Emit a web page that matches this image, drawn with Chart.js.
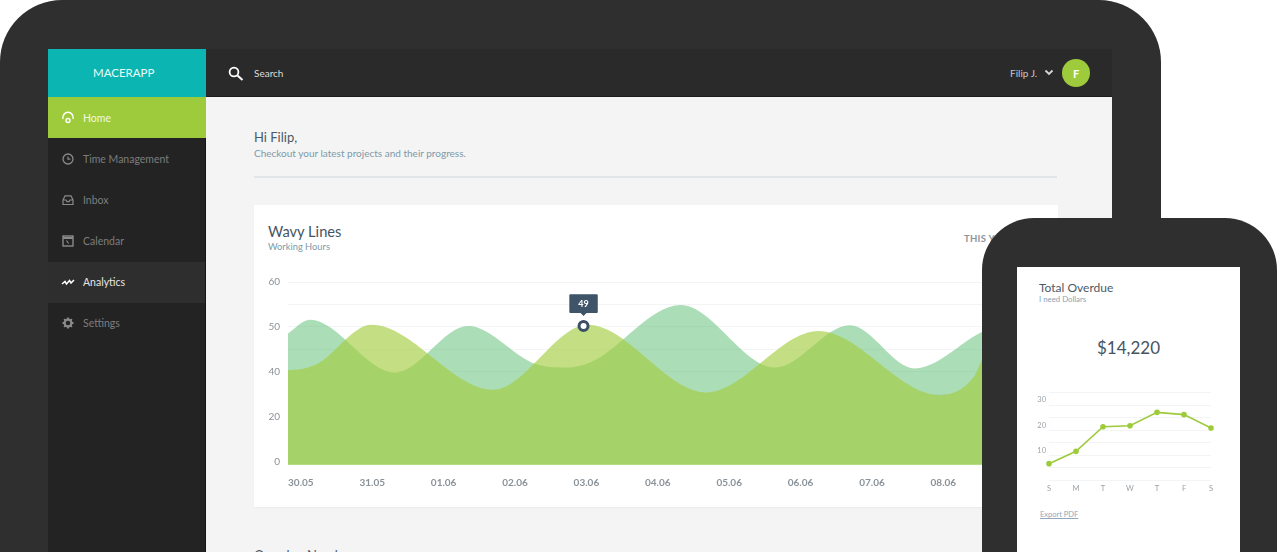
<!DOCTYPE html>
<html>
<head>
<meta charset="utf-8">
<title>Macerapp</title>
<script src="https://cdn.jsdelivr.net/npm/chart.js@4/dist/chart.umd.js"></script>
<style>
  html, body { margin: 0; padding: 0; background: #fff; }
  body { width: 1280px; height: 552px; overflow: hidden; position: relative; font-family: Lato, "Open Sans", sans-serif; }
  .box { position: absolute; }
  .txt { position: absolute; white-space: nowrap; line-height: 1; }
  canvas { position: absolute; }
  .nav { position: absolute; left: 83px; font-size: 10.5px; color: #7d7d7d; line-height: 1; }
  .ico { position: absolute; left: 61px; width: 14px; height: 14px; }
</style>
</head>
<body>
  <div class="box" style="left:0;top:0;width:1161px;height:600px;background:#2f2f2f;border-radius:62px 62px 0 0"></div>
  <div class="box" style="left:48px;top:49px;width:1064px;height:48px;background:#2a2a2a;box-shadow:inset 0 -1px 0 #1c1c1c"></div>
  <div class="box" style="left:48px;top:97px;width:158px;height:455px;background:#232323;border-right:1px solid #151515;box-sizing:border-box"></div>
  <div class="box" style="left:48px;top:49px;width:158px;height:48px;background:#0bb5b1"></div>
  <div class="box" style="left:48px;top:97px;width:158px;height:41px;background:#9dcb3b"></div>
  <div class="box" style="left:48px;top:262px;width:157px;height:41px;background:#2e2e2e"></div>
  <div class="box" style="left:206px;top:97px;width:906px;height:455px;background:#f4f4f4"></div>
  <div class="box" style="left:254px;top:176px;width:803px;height:2px;background:#e1e5e8"></div>
  <div class="box" style="left:254px;top:205px;width:804px;height:302px;background:#fff;box-shadow:0 1px 1px #ececec"></div>

  <div class="txt" style="left:93px;top:67px;font-size:11.5px;color:#e9fbfa">MACERAPP</div>
  <div class="txt" style="left:254px;top:68px;font-size:10px;color:#dcdcdc">Search</div>
  <div class="txt" style="left:1010px;top:67.5px;font-size:10px;color:#c8c8c8">Filip J.</div>
  <div class="box" style="left:1062px;top:59px;width:28px;height:28px;border-radius:50%;background:#9dcb3b"></div>
  <div class="txt" style="left:1062px;width:28px;text-align:center;top:67.5px;font-size:11px;font-weight:700;color:#fff">F</div>
  <svg class="box" style="left:1044px;top:69px" width="10" height="8"><path d="M1.5 1.5 L5 5 L8.5 1.5" fill="none" stroke="#d6d6d6" stroke-width="1.8"/></svg>
  <svg class="box" style="left:228px;top:66px" width="16" height="15"><circle cx="6" cy="6" r="4.4" fill="none" stroke="#fff" stroke-width="1.8"/><path d="M9.5 9.5 L14.5 14" stroke="#fff" stroke-width="2"/></svg>

  <div class="nav" style="top:112.5px;color:#f2f8e2">Home</div>
  <div class="nav" style="top:153.5px">Time Management</div>
  <div class="nav" style="top:194.5px">Inbox</div>
  <div class="nav" style="top:235.5px">Calendar</div>
  <div class="nav" style="top:277px;color:#e6e6e6">Analytics</div>
  <div class="nav" style="top:318px">Settings</div>

  <svg class="ico" style="top:111px" viewBox="0 0 14 14"><path d="M2 8 A5.2 5.2 0 1 1 12 8" fill="none" stroke="#fff" stroke-width="1.5"/><circle cx="7" cy="9.5" r="2" fill="none" stroke="#fff" stroke-width="1.4"/></svg>
  <svg class="ico" style="top:152px" viewBox="0 0 14 14"><circle cx="7" cy="7" r="5" fill="none" stroke="#8a8a8a" stroke-width="1.3"/><path d="M7 4.5 V7.2 H9.4" fill="none" stroke="#8a8a8a" stroke-width="1.2"/></svg>
  <svg class="ico" style="top:193px" viewBox="0 0 14 14"><path d="M2 7 L4 2.8 H10 L12 7 V11.5 H2 Z M2 7 H5 L6 8.6 H8 L9 7 H12" fill="none" stroke="#8a8a8a" stroke-width="1.2"/></svg>
  <svg class="ico" style="top:234px" viewBox="0 0 14 14"><rect x="2" y="2" width="10" height="10" fill="none" stroke="#8a8a8a" stroke-width="1.4"/><path d="M2 4 H12" stroke="#8a8a8a" stroke-width="2"/><path d="M5.5 6.5 L7.5 9.5" stroke="#8a8a8a" stroke-width="1.2"/></svg>
  <svg class="ico" style="top:275px" viewBox="0 0 14 14"><path d="M1 9 L4 6.5 L5.5 9 L8.5 5.5 L10 8 L13 5" fill="none" stroke="#fff" stroke-width="1.5"/></svg>
  <svg class="ico" style="top:316px" viewBox="0 0 14 14"><circle cx="7" cy="7" r="3.4" fill="none" stroke="#8a8a8a" stroke-width="2.2"/><path d="M7 1.5 V3.5 M7 10.5 V12.5 M1.5 7 H3.5 M10.5 7 H12.5 M3.1 3.1 L4.5 4.5 M9.5 9.5 L10.9 10.9 M10.9 3.1 L9.5 4.5 M4.5 9.5 L3.1 10.9" stroke="#8a8a8a" stroke-width="1.8"/></svg>

  <div class="txt" style="left:254px;top:131px;font-size:13px;color:#4b5a66">Hi Filip,</div>
  <div class="txt" style="left:254px;top:148px;font-size:10px;color:#7d9aa9">Checkout your latest projects and their progress.</div>
  <div class="txt" style="left:268px;top:223.5px;font-size:14.7px;color:#46545f">Wavy Lines</div>
  <div class="txt" style="left:268px;top:242px;font-size:9.3px;color:#7d9aa9">Working Hours</div>
  <div class="txt" style="left:964px;top:234px;font-size:9.5px;font-weight:700;letter-spacing:.3px;color:#8d969e">THIS YEAR</div>
  <div class="txt" style="left:254px;top:549px;font-size:13px;color:#4b5a66">Overdue Numbers</div>

  <canvas id="wavy" style="left:254px;top:268px;width:804px;height:232px"></canvas>

  <div class="box" style="left:982px;top:218px;width:295px;height:400px;background:#2f2f2f;border-radius:52px 52px 0 0"></div>
  <div class="box" style="left:1017px;top:267px;width:223px;height:285px;background:#fff"></div>
  <div class="txt" style="left:1039px;top:281.5px;font-size:12px;color:#4b5a66">Total Overdue</div>
  <div class="txt" style="left:1039px;top:295.5px;font-size:7.8px;color:#8aa3b3">I need Dollars</div>
  <div class="txt" style="left:1017px;width:223px;text-align:center;top:339px;font-size:17px;color:#46545f">$14,220</div>
  <div class="txt" style="left:1040px;top:511px;font-size:7.5px;color:#8fa6bd;text-decoration:underline">Export PDF</div>

  <canvas id="overdue" style="left:1030px;top:385px;width:195px;height:110px"></canvas>

<script>
// main chart: x is days after 30.05, y is what the printed axis reads
const dates = ["30.05", "31.05", "01.06", "02.06", "03.06", "04.06", "05.06", "06.06", "07.06", "08.06", "09.06"];
const yLabels = [0, 20, 40, 50, 60];
const yGridValues = [0, 10, 20, 30, 40, 45, 50, 55, 60];

// crests and troughs of each wave, plus a few shoulders
const tealDays = [-0.187, 0.126, 1.317, 2.344, 3.3, 3.72, 4.05, 5.32, 6.64, 7.69, 8.6, 9.8, 10.3];
const tealValues = [48.5, 51.6, 39.7, 50.2, 41.7, 41, 42.1, 54.9, 41, 50.4, 40.8, 50, 48];
const greenDays = [-0.187, -0.014, 0.22, 0.99, 2.694, 4.02, 5.68, 7.25, 8.95, 9.42, 9.56, 10.3];
const greenValues = [40.4, 40.6, 41.7, 50.5, 32.1, 50.5, 30.9, 49.1, 29.7, 37.5, 43.2, 53];
const markerDays = [3.96];
const markerValues = [50.2];
const markerLabels = ["49"];

// small chart
const weekDays = ["S", "M", "T", "W", "T", "F", "S"];
const overdueValues = [6.7, 11.6, 21.4, 21.8, 27.1, 26.2, 20.9];
const overdueLabels = [10, 20, 30];

const zip = (xs, ys) => xs.map((x, i) => ({ x: x, y: ys[i] }));

// the printed axis is not even: 0, 20, 40, 50, 60 sit the same distance apart
class SteppedScale extends Chart.LinearScale {
  toUnits(v) {
    if (v <= yLabels[0]) return (v - yLabels[0]) / (yLabels[1] - yLabels[0]);
    for (let i = 1; i < yLabels.length; i++) {
      if (v <= yLabels[i]) return i - 1 + (v - yLabels[i - 1]) / (yLabels[i] - yLabels[i - 1]);
    }
    return yLabels.length - 1;
  }
  buildTicks() {
    return yGridValues.map((v) => ({ value: v }));
  }
  getPixelForValue(v) {
    const lo = this.toUnits(this.min);
    const hi = this.toUnits(this.max);
    return this.getPixelForDecimal((this.toUnits(v) - lo) / (hi - lo));
  }
}
SteppedScale.id = "stepped";
SteppedScale.defaults = Chart.LinearScale.defaults;
Chart.register(SteppedScale);

Chart.defaults.font.family = "Lato, 'Open Sans', sans-serif";
Chart.defaults.animation = false;

const wavy = new Chart(document.getElementById("wavy"), {
  type: "line",
  data: {
    datasets: [
      {
        data: zip(markerDays, markerValues),
        showLine: false,
        pointRadius: 4.5,
        pointBackgroundColor: "#fff",
        pointBorderColor: "#3b4f66",
        pointBorderWidth: 3,
      },
      {
        data: zip(greenDays, greenValues),
        cubicInterpolationMode: "monotone",
        backgroundColor: "rgba(165,206,65,0.65)",
        borderWidth: 0,
        pointRadius: 0,
        fill: "start",
      },
      {
        data: zip(tealDays, tealValues),
        cubicInterpolationMode: "monotone",
        backgroundColor: "rgba(87,187,111,0.5)",
        borderWidth: 0,
        pointRadius: 0,
        fill: "start",
      },
    ],
  },
  options: {
    responsive: false,
    events: [],
    layout: { padding: { top: 7.3, right: 29, left: 0, bottom: 0 } },
    plugins: {
      legend: { display: false },
      tooltip: {
        enabled: true,
        filter: (item) => item.datasetIndex === 0,
        callbacks: { title: () => "", label: (item) => markerLabels[item.dataIndex] },
        displayColors: false,
        backgroundColor: "#3f5369",
        bodyColor: "#fff",
        bodyFont: { size: 9, weight: "bold" },
        padding: { x: 9, y: 4 },
        cornerRadius: 1,
        caretSize: 3,
        caretPadding: 10,
        xAlign: "center",
        yAlign: "bottom",
      },
    },
    scales: {
      x: {
        type: "linear",
        min: -0.18,
        max: 10.2,
        grid: { display: false, drawTicks: false },
        border: { display: true, color: "#b4dc82", width: 1 },
        afterFit: (s) => { s.height = 36; },
        afterBuildTicks: (s) => { s.ticks = dates.map((d, i) => ({ value: i })); },
        ticks: {
          autoSkip: false,
          maxRotation: 0,
          padding: 13,
          color: "#8a9299",
          font: { size: 10, weight: "bold" },
          callback: (v) => dates[v],
        },
      },
      y: {
        type: "stepped",
        min: -0.9,
        max: 60,
        grid: { color: "#f3f4f5", drawTicks: false },
        border: { display: false },
        afterFit: (s) => { s.width = 34; },
        ticks: {
          autoSkip: false,
          padding: 8,
          color: "#8a9299",
          font: { size: 10 },
          callback: (v) => (yLabels.includes(v) ? v : ""),
        },
      },
    },
  },
});
wavy.tooltip.setActiveElements([{ datasetIndex: 0, index: 0 }], { x: 0, y: 0 });
wavy.update();

new Chart(document.getElementById("overdue"), {
  type: "line",
  data: {
    labels: weekDays,
    datasets: [
      {
        data: overdueValues,
        borderColor: "#9dcb3b",
        backgroundColor: "#9dcb3b",
        borderWidth: 1.6,
        pointRadius: 2,
        tension: 0,
      },
    ],
  },
  options: {
    responsive: false,
    events: [],
    layout: { padding: { top: 6.3, right: 14, left: 0, bottom: 0 } },
    plugins: { legend: { display: false }, tooltip: { enabled: false } },
    scales: {
      x: {
        grid: { display: false, drawTicks: false },
        border: { display: false },
        afterFit: (s) => { s.height = 14.5; },
        ticks: { autoSkip: false, maxRotation: 0, padding: 4, color: "#9aa2a8", font: { size: 7.5 } },
      },
      y: {
        min: 0,
        max: 35,
        grid: { color: "#f3f4f5", drawTicks: false },
        border: { display: false },
        afterFit: (s) => { s.width = 19; },
        ticks: {
          stepSize: 5,
          padding: 3,
          labelOffset: -5,
          color: "#9aa2a8",
          font: { size: 7.5 },
          callback: (v) => (overdueLabels.includes(v) ? v : ""),
        },
      },
    },
  },
});
</script>
</body>
</html>
